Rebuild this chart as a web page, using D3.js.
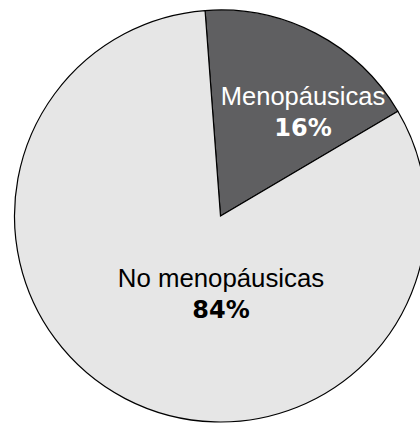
<!DOCTYPE html>
<html>
<head>
<meta charset="utf-8">
<script src="https://cdn.jsdelivr.net/npm/d3@7"></script>
<style>
  html, body { margin: 0; padding: 0; background: #ffffff; }
  svg { display: block; }
</style>
</head>
<body>
<svg id="chart" width="420" height="425"></svg>
<script>
const categories = ["Menopáusicas", "No menopáusicas"];
const shares = [17.7, 82.3];
const percentLabels = ["16%", "84%"];

// Styling / layout
const colors = ["#5f5f61", "#e6e6e6"];
const textColors = ["#ffffff", "#000000"];
const cx = 220.5, cy = 216, radius = 206;
const startDeg = -4.3;
// label anchor points (centre x, baseline y of first line), relative to pie centre
const labelPos = [[82.5, -111], [0.5, 70.5]];

const svg = d3.select("#chart");
const g = svg.append("g").attr("transform", `translate(${cx},${cy})`);

const pie = d3.pie().sort(null).value(d => d)
  .startAngle(startDeg * Math.PI / 180)
  .endAngle(startDeg * Math.PI / 180 + 2 * Math.PI);
const arc = d3.arc().innerRadius(0).outerRadius(radius);
const arcs = pie(shares);

g.selectAll("path.slice")
  .data(arcs)
  .join("path")
  .attr("class", "slice")
  .attr("d", arc)
  .attr("fill", (d, i) => colors[i])
  .attr("stroke", "#000")
  .attr("stroke-width", 1.2)
  .attr("stroke-linejoin", "miter");

const labels = g.selectAll("g.lab")
  .data(arcs)
  .join("g")
  .attr("class", "lab")
  .attr("transform", (d, i) => `translate(${labelPos[i][0]},${labelPos[i][1]})`);

labels.append("text")
  .attr("text-anchor", "middle")
  .attr("font-family", "Liberation Sans, Arial, Helvetica, sans-serif")
  .attr("font-size", (d, i) => i === 0 ? 25.5 : 25.8)
  .attr("fill", (d, i) => textColors[i])
  .text((d, i) => categories[i]);

labels.append("text")
  .attr("text-anchor", "middle")
  .attr("y", (d, i) => i === 0 ? 31 : 31.5)
  .attr("font-family", "DejaVu Sans, sans-serif")
  .attr("font-weight", "bold")
  .attr("font-size", 24)
  .attr("fill", (d, i) => textColors[i])
  .text((d, i) => percentLabels[i]);
</script>
</body>
</html>
